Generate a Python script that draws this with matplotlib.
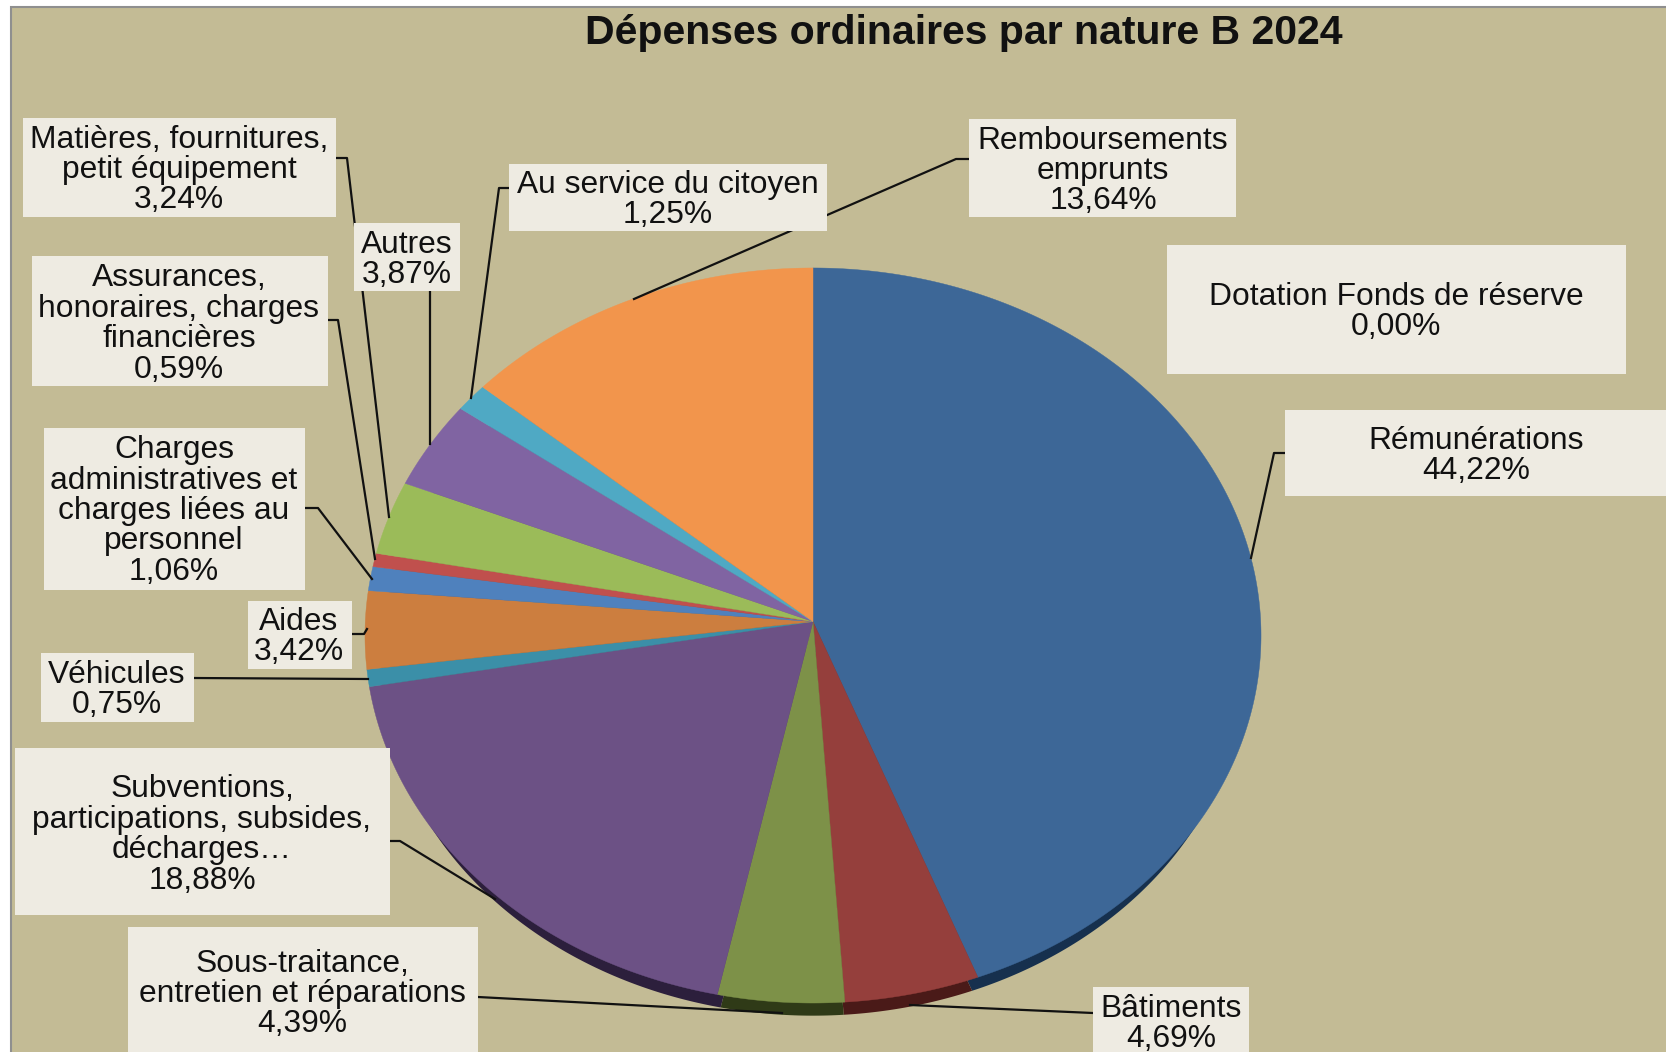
import numpy as np
import matplotlib
matplotlib.use("Agg")
import matplotlib.pyplot as plt
from matplotlib.patches import Rectangle

plt.rcParams["font.family"] = ["Liberation Sans", "DejaVu Sans"]

# slices, clockwise from the top
names = ["Rémunérations", "Bâtiments", "Sous-traitance,\nentretien et réparations",
         "Subventions,\nparticipations, subsides,\ndécharges…", "Véhicules", "Aides",
         "Charges\nadministratives et\ncharges liées au\npersonnel",
         "Assurances,\nhonoraires, charges\nfinancières",
         "Matières, fournitures,\npetit équipement", "Autres", "Au service du citoyen",
         "Remboursements\nemprunts", "Dotation Fonds de réserve"]
values = [44.22, 4.69, 4.39, 18.88, 0.75, 3.42, 1.06, 0.59, 3.24, 3.87, 1.25, 13.64, 0.00]
colors = ["#3d6797", "#953f3c", "#7d9148", "#6c5185", "#3b8fa8", "#cc7e3f", "#4f81bd",
          "#c0504d", "#9bbb59", "#8064a2", "#4fa9c4", "#f2954c", "#cccccc"]
side_colors = ["#16304e", "#4a1a18", "#2f3a17", "#2c1f3c", "#1c4a58", "#6b3f1c", "#284060",
               "#602826", "#4e5e2c", "#403250", "#265662", "#7c4a24", "#666666"]

# label boxes: x0, y0, x1, y1 in pixels, then text centre
boxes = [(1285, 410, 1666, 496), (1093, 987, 1249, 1052), (128, 927, 478, 1052), (15, 748, 390, 915),
         (41, 653, 194, 722), (248, 601, 352, 669), (44, 428, 305, 590), (32, 256, 328, 386),
         (23, 118, 336, 217), (354, 223, 460, 291), (509, 164, 827, 231), (969, 119, 1236, 217),
         (1167, 245, 1626, 374)]
text_pos = [(1476, 456), (1171, 1024), (302, 994), (202, 835), (117, 690), (299, 637), (174, 511),
            (179, 324), (179, 170), (407, 260), (668, 200), (1103, 171), (1396, 312)]

# leader lines, pixels
leaders = [[(1285, 453), (1274, 453), (1251, 558)],
           [(1093, 1013), (910, 1005)],
           [(478, 997), (782, 1013)],
           [(390, 841), (400, 841), (495, 899)],
           [(194, 678), (368, 679)],
           [(352, 634), (364, 634), (367, 629)],
           [(306, 508), (318, 508), (372, 579)],
           [(328, 320), (338, 320), (375, 559)],
           [(336, 158), (347, 158), (389, 517)],
           [(430, 291), (430, 444)],
           [(509, 188), (499, 188), (471, 398)],
           [(969, 159), (956, 159), (634, 299)]]

# pie seen in perspective, tip and radii in pixels
tip_x, tip_y = 813, 621.6
rad_x, rad_y = 447.7, 367
persp = 0.0378


def wedge(start, end, scale=1.0, shift=0.0):
    a = np.radians(np.linspace(start, end, max(int(abs(end - start) * 2), 2)))
    w = 1 + persp * np.cos(a)
    xs = tip_x + scale * rad_x * np.sin(a) / w
    ys = tip_y + shift - scale * rad_y * np.cos(a) / w
    return np.r_[tip_x, xs], np.r_[tip_y + shift, ys]


fig = plt.figure(figsize=(16.66, 10.52), dpi=100, facecolor="white")
ax = fig.add_axes([0, 0, 1, 1])
ax.set_xlim(0, 1666)
ax.set_ylim(1052, 0)
ax.axis("off")

# background panel
ax.add_patch(Rectangle((11, 7), 1700, 1100, facecolor="#c3bb95", edgecolor="#8f8f8f", lw=1.5, zorder=0))

edges = np.cumsum([0] + values) / sum(values) * 360

# dark base first, then the top face over it
for i in range(len(values)):
    if values[i] == 0:
        continue
    x, y = wedge(edges[i], edges[i + 1], scale=0.965, shift=26)
    ax.fill(x, y, color=side_colors[i], lw=0, zorder=1)
for i in range(len(values)):
    if values[i] == 0:
        continue
    x, y = wedge(edges[i], edges[i + 1])
    ax.fill(x, y, color=colors[i], lw=0.3, zorder=2)

for pts in leaders:
    ax.plot([p[0] for p in pts], [p[1] for p in pts], color="#111111", lw=1.6, zorder=3)

for i in range(len(names)):
    x0, y0, x1, y1 = boxes[i]
    ax.add_patch(Rectangle((x0, y0), x1 - x0, y1 - y0, facecolor="#eeebe2", edgecolor="none", zorder=4))
    label = names[i] + "\n" + f"{values[i]:.2f}".replace(".", ",") + "%"
    ax.text(text_pos[i][0], text_pos[i][1], label, ha="center", va="center", fontsize=22.9,
            linespacing=1.02, color="#111111", zorder=5)

ax.text(964, 33, "Dépenses ordinaires par nature B 2024", ha="center", va="center",
        fontsize=29.5, fontweight="bold", color="#111111", zorder=5)

plt.savefig("out.png", dpi=100)
